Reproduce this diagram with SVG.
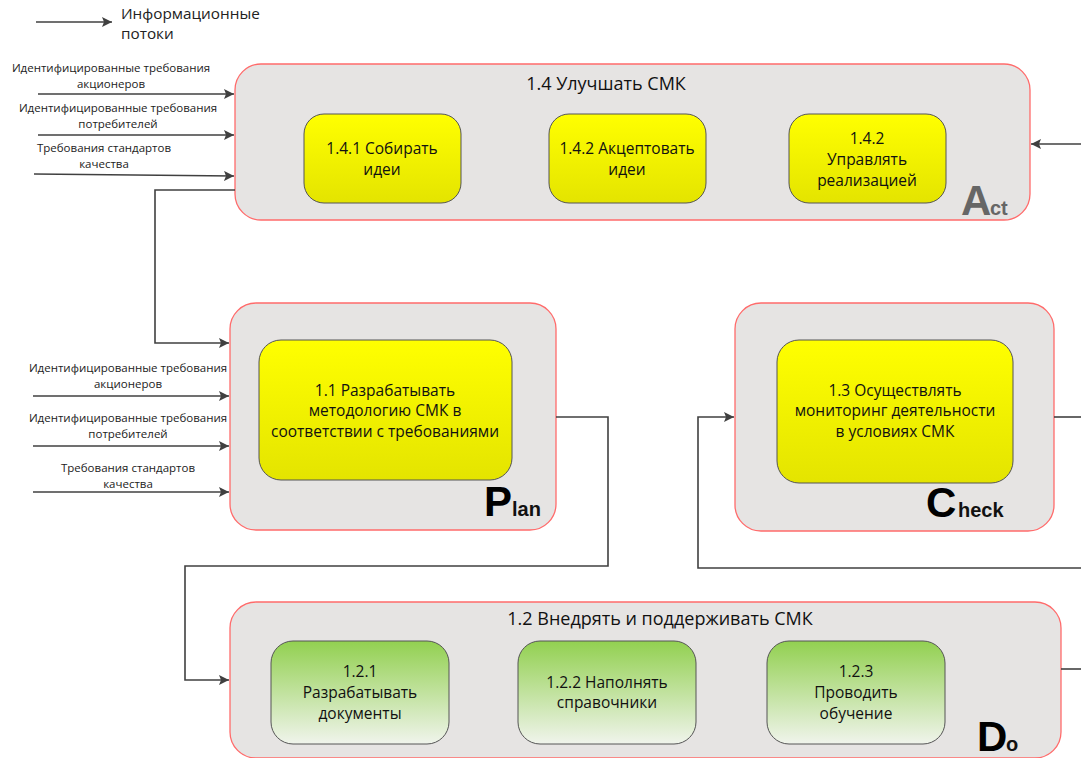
<svg xmlns="http://www.w3.org/2000/svg" width="1081" height="758" viewBox="0 0 1081 758">
<defs>
<linearGradient id="gy" x1="0" y1="0" x2="0" y2="1"><stop offset="0" stop-color="#FFFF00"/><stop offset="1" stop-color="#E4E400"/></linearGradient>
<linearGradient id="gg" x1="0" y1="0" x2="0" y2="1"><stop offset="0" stop-color="#92D050"/><stop offset="1" stop-color="#F0F4EC"/></linearGradient>
<marker id="ar" viewBox="0 0 10 10" refX="10" refY="5" markerWidth="10" markerHeight="10" markerUnits="userSpaceOnUse" orient="auto"><path d="M0,0 L10,5 L0,10 L2,5 Z" fill="#404040"/></marker>
</defs>
<style>
.outer{fill:#E6E4E3;stroke:#FF6B6B;stroke-width:1.3}
.y{fill:url(#gy);stroke:#555;stroke-width:1}
.g{fill:url(#gg);stroke:#555;stroke-width:1}
.t{font-family:"Open Sans","Noto Sans",sans-serif;font-size:15.5px;fill:#111;text-anchor:middle}
.h{font-family:"Open Sans","Noto Sans",sans-serif;font-size:18px;fill:#111;text-anchor:middle}
.s{font-family:"Open Sans","Noto Sans",sans-serif;font-size:11.5px;fill:#222;text-anchor:middle}
.L{font-family:"Liberation Sans",Arial,sans-serif;font-weight:bold}
.c{fill:none;stroke:#404040;stroke-width:1.6}
</style>
<rect width="1081" height="758" fill="#fff"/>
<g id="legend">
<line class="c" x1="36" y1="22" x2="112" y2="22" marker-end="url(#ar)"/>
<text x="121" y="19" style="font-family:'Open Sans','Noto Sans',sans-serif;font-size:15.3px;fill:#222">Информационные</text>
<text x="121" y="39" style="font-family:'Open Sans','Noto Sans',sans-serif;font-size:15.3px;fill:#222">потоки</text>
</g>
<g id="act">
<rect class="outer" x="235" y="64" width="795" height="156" rx="26"/>
<text class="h" x="606" y="90">1.4 Улучшать СМК</text>
<g id="n141"><rect class="y" x="304" y="114" width="157" height="89" rx="20"/><text class="t" x="382" y="154">1.4.1 Собирать</text><text class="t" x="382" y="175">идеи</text></g>
<g id="n142"><rect class="y" x="549" y="114" width="157" height="89" rx="20"/><text class="t" x="627" y="154">1.4.2 Акцептовать</text><text class="t" x="627" y="175">идеи</text></g>
<g id="n143"><rect class="y" x="789" y="114" width="157" height="89" rx="20"/><text class="t" x="867" y="144">1.4.2</text><text class="t" x="867" y="165">Управлять</text><text class="t" x="867" y="186">реализацией</text></g>
<text class="L" x="961" y="215" fill="#666" font-size="42">A</text><text class="L" x="990" y="215" fill="#666" font-size="20">ct</text>
</g>
<g id="plan">
<rect class="outer" x="230" y="303" width="326" height="227" rx="26"/>
<g id="n11"><rect class="y" x="259" y="340" width="253" height="140" rx="22"/><text class="t" x="385" y="396">1.1 Разрабатывать</text><text class="t" x="385" y="416">методологию СМК в</text><text class="t" x="385" y="437">соответствии с требованиями</text></g>
<text class="L" x="484" y="516" fill="#000" font-size="42">P</text><text class="L" x="512" y="516" fill="#111" font-size="20">lan</text>
</g>
<g id="check">
<rect class="outer" x="735" y="303" width="319" height="228" rx="26"/>
<g id="n13"><rect class="y" x="777" y="340" width="236" height="143" rx="22"/><text class="t" x="895" y="396">1.3 Осуществлять</text><text class="t" x="895" y="416">мониторинг деятельности</text><text class="t" x="895" y="437">в условиях СМК</text></g>
<text class="L" x="926" y="517" fill="#000" font-size="42">C</text><text class="L" x="958" y="517" fill="#111" font-size="20">heck</text>
</g>
<g id="do">
<rect class="outer" x="230" y="602" width="831" height="156" rx="26"/>
<text class="h" x="660" y="625">1.2 Внедрять и поддерживать СМК</text>
<g id="n121"><rect class="g" x="271" y="641" width="178" height="103" rx="22"/><text class="t" x="360" y="677">1.2.1</text><text class="t" x="360" y="698">Разрабатывать</text><text class="t" x="360" y="719">документы</text></g>
<g id="n122"><rect class="g" x="518" y="641" width="178" height="103" rx="22"/><text class="t" x="607" y="688">1.2.2 Наполнять</text><text class="t" x="607" y="708">справочники</text></g>
<g id="n123"><rect class="g" x="767" y="641" width="178" height="103" rx="22"/><text class="t" x="856" y="677">1.2.3</text><text class="t" x="856" y="698">Проводить</text><text class="t" x="856" y="719">обучение</text></g>
<text class="L" x="977" y="751" fill="#000" font-size="42">D</text><text class="L" x="1006" y="751" fill="#111" font-size="20">o</text>
</g>
<g id="labels">
<text class="s" x="111" y="72">Идентифицированные требования</text>
<text class="s" x="111" y="88">акционеров</text>
<text class="s" x="118" y="112">Идентифицированные требования</text>
<text class="s" x="118" y="128">потребителей</text>
<text class="s" x="104" y="152">Требования стандартов</text>
<text class="s" x="104" y="168">качества</text>
<text class="s" x="128" y="372">Идентифицированные требования</text>
<text class="s" x="128" y="388">акционеров</text>
<text class="s" x="128" y="422">Идентифицированные требования</text>
<text class="s" x="128" y="438">потребителей</text>
<text class="s" x="128" y="472">Требования стандартов</text>
<text class="s" x="128" y="488">качества</text>
</g>
<g id="connectors">
<line class="c" x1="38" y1="94" x2="234" y2="94" marker-end="url(#ar)"/>
<line class="c" x1="38" y1="135" x2="234" y2="135" marker-end="url(#ar)"/>
<line class="c" x1="34" y1="174" x2="234" y2="176" marker-end="url(#ar)"/>
<line class="c" x1="33" y1="396" x2="229" y2="396" marker-end="url(#ar)"/>
<line class="c" x1="33" y1="446" x2="229" y2="446" marker-end="url(#ar)"/>
<line class="c" x1="33" y1="492" x2="229" y2="492" marker-end="url(#ar)"/>
<polyline class="c" points="235,190 155,190 155,343 229,343" marker-end="url(#ar)"/>
<polyline class="c" points="556,417 608,417 608,566 185,566 185,680 229,680" marker-end="url(#ar)"/>
<polyline class="c" points="1081,568 698,568 698,417 734,417" marker-end="url(#ar)"/>
<line class="c" x1="1054" y1="417" x2="1081" y2="417"/>
<line class="c" x1="1061" y1="669" x2="1081" y2="669"/>
<line class="c" x1="1081" y1="144" x2="1031" y2="144" marker-end="url(#ar)"/>
</g>
</svg>
